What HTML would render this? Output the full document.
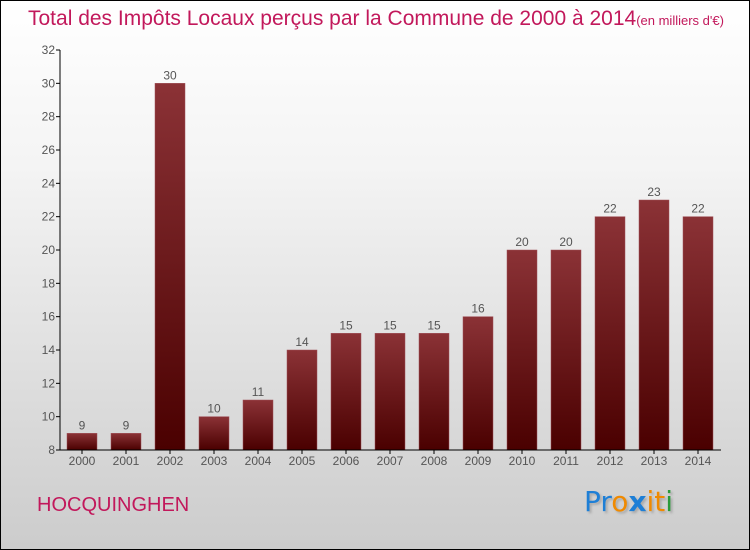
<!DOCTYPE html>
<html><head><meta charset="utf-8"><style>
body{margin:0}
#root{position:relative;width:748px;height:548px;border:1px solid #000;background:linear-gradient(#fff,#f4f4f4 30%,#ccc);font-family:"Liberation Sans",sans-serif;overflow:hidden}
.t{position:absolute;white-space:nowrap}
</style></head><body>
<div id="root">
<div class="t" style="left:27px;top:6px;font-size:21px;color:#c2185b">Total des Impôts Locaux perçus par la Commune de 2000 à 2014<span style="font-size:13px">(en milliers d'€)</span></div>
<svg id="svg" width="750" height="550" style="position:absolute;left:-1px;top:-1px"></svg>
<div class="t" style="left:36px;top:493px;font-size:20px;color:#c2185b">HOCQUINGHEN</div>
<div class="t" style="left:583px;top:484px;font-size:28px;font-family:'DejaVu Sans',sans-serif;text-shadow:2px 2px 2px #aaa"><span style="color:#1e7fd6">Pr</span><span style="color:#f08a00">o</span><span style="color:#1e7fd6;font-weight:bold">x</span><span style="color:#f08a00">i</span><span style="color:#f08a00">t</span><span style="color:#2a9a3a">i</span></div>
</div>
<script>
const years=["2000","2001","2002","2003","2004","2005","2006","2007","2008","2009","2010","2011","2012","2013","2014"];
const values=[9,9,30,10,11,14,15,15,15,16,20,20,22,23,22];
const yTicks=[8,10,12,14,16,18,20,22,24,26,28,30,32];
const svg=document.getElementById('svg');const NS='http://www.w3.org/2000/svg';
const y=v=>450-(v-8)*400/24;const x0=60,band=44;
function mk(t,a){const e=document.createElementNS(NS,t);for(const k in a)e.setAttribute(k,a[k]);svg.appendChild(e);return e;}
const defs=mk('defs',{});
defs.innerHTML='<linearGradient id="g" x1="0" y1="0" x2="0" y2="1"><stop offset="0" stop-color="#8b3236"/><stop offset="1" stop-color="#4a0000"/></linearGradient>';
values.forEach((v,i)=>{
const bx=x0+7+i*band;
const r=mk('rect',{x:bx,y:y(v),width:30,height:450-y(v),fill:'url(#g)',stroke:'#a05058','stroke-width':0.5});


const t=mk('text',{x:bx+15,y:y(v)-4,'text-anchor':'middle','font-size':12,fill:'#555','font-family':'Liberation Sans, sans-serif'});t.textContent=v;


const xl=mk('text',{x:bx+15,y:465,'text-anchor':'middle','font-size':12,fill:'#555','font-family':'Liberation Sans, sans-serif'});xl.textContent=years[i];


mk('line',{x1:bx+15,x2:bx+15,y1:450,y2:454,stroke:'#000'});
});
yTicks.forEach(v=>{
mk('line',{x1:56,x2:60,y1:y(v),y2:y(v),stroke:'#000'});
const t=mk('text',{x:55,y:y(v)+4,'text-anchor':'end','font-size':12,fill:'#555','font-family':'Liberation Sans, sans-serif'});t.textContent=v;


});
const ya=mk('line',{x1:60,x2:60,y1:50,y2:450,stroke:'#000'});


const xa=mk('line',{x1:60,x2:721,y1:450,y2:450,stroke:'#000'});


</script>
</body></html>
